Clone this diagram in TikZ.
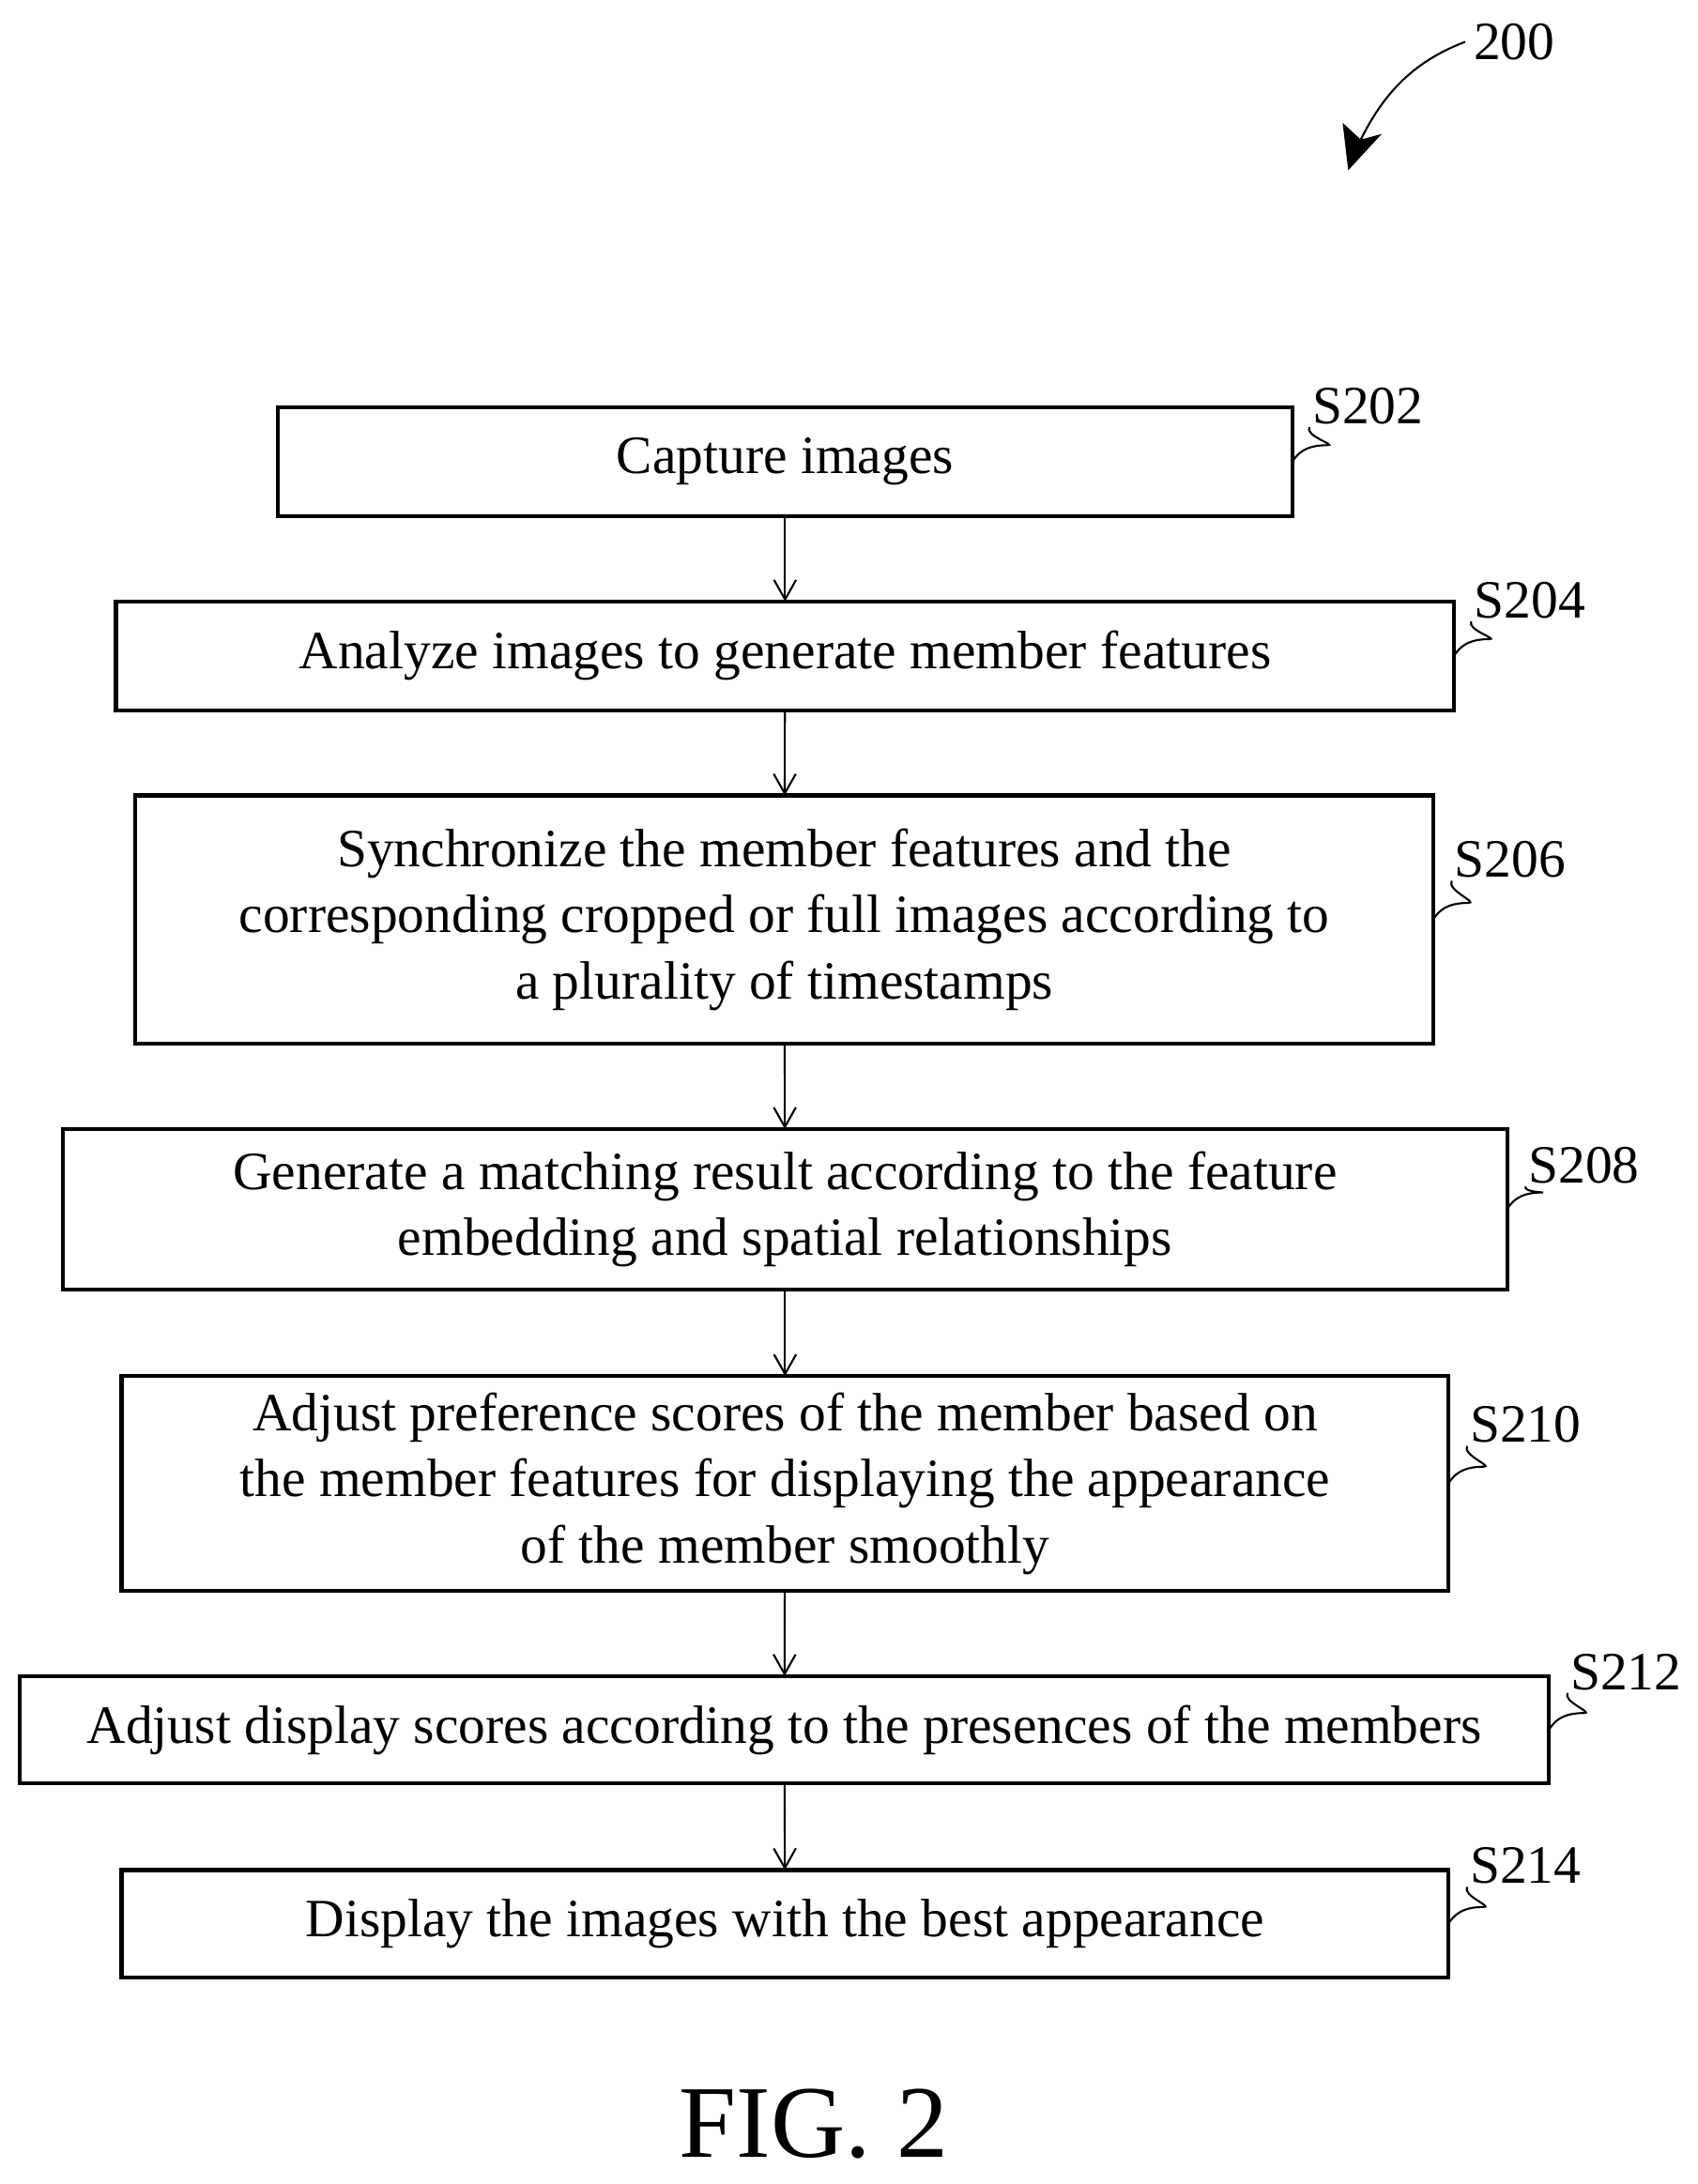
\documentclass[tikz,border=0pt]{standalone}
\usepackage{fontspec}
\setmainfont{Liberation Serif}
\usetikzlibrary{positioning,arrows.meta}

\begin{document}
\begin{tikzpicture}[x=0.02cm,y=-0.02cm]
  \tikzset{StepStyle/.style = {
    shape         = rectangle,
    draw          = black,
    line width    = 1.6pt,
    align         = center,
    inner sep     = 0pt,
    outer sep     = 0pt,
    font          = \fontsize{22}{27}\selectfont
    }
  }
  \tikzset{LabelStyle/.style = {
    inner sep     = 1pt,
    font          = \fontsize{22}{26}\selectfont
    }
  }
  \tikzset{FlowStyle/.style = {
    draw          = black,
    line width    = 0.8pt,
    -{Straight Barb[length=8pt,width=9pt]}
    }
  }
  \tikzset{TagStyle/.style = {
    draw          = black,
    line width    = 0.8pt
    }
  }
  \useasboundingbox (0,0) rectangle (1216,1565);

	\node[StepStyle, minimum width=14.54cm, minimum height=1.56cm](S202) at (562.5,331) {Capture images};
	\node[StepStyle, minimum width=19.18cm, minimum height=1.56cm](S204) at (562.5,470) {Analyze images to generate member features};
	\node[StepStyle, minimum width=18.6cm, minimum height=3.56cm](S206) at (562,659) {Synchronize the member features and the\\corresponding cropped or full images according to\\a plurality of timestamps};
	\node[StepStyle, minimum width=20.7cm, minimum height=2.3cm](S208) at (562.5,866.5) {Generate a matching result according to the feature\\embedding and spatial relationships};
	\node[StepStyle, minimum width=19.02cm, minimum height=3.08cm](S210) at (562.5,1063) {Adjust preference scores of the member based on\\the member features for displaying the appearance\\of the member smoothly};
	\node[StepStyle, minimum width=21.92cm, minimum height=1.54cm](S212) at (562,1239.5) {Adjust display scores according to the presences of the members};
	\node[StepStyle, minimum width=19.02cm, minimum height=1.54cm](S214) at (562.5,1378.5) {Display the images with the best appearance};
	%
	\node[LabelStyle](lS202) at (980,291) {S202};
	\node[LabelStyle](lS204) at (1096,430) {S204};
	\node[LabelStyle](lS206) at (1082,616) {S206};
	\node[LabelStyle](lS208) at (1135,835) {S208};
	\node[LabelStyle](lS210) at (1093,1021) {S210};
	\node[LabelStyle](lS212) at (1165,1198) {S212};
	\node[LabelStyle](lS214) at (1093,1337) {S214};
	%
	\foreach \s in {S202,S204,S206,S208,S210,S212,S214}
	  \draw[TagStyle] (\s.east) to[out=60,in=180] ++(25,-12) to[out=0,in=240] (l\s.south west);
	%
	\foreach \a/\b in {S202/S204,S204/S206,S206/S208,S208/S210,S210/S212,S212/S214}
	  \draw[FlowStyle] (\a) -- (\b);
	%
	\node[font=\fontsize{22}{26}\selectfont](fig) at (1085,30) {200};
	\coordinate (tip) at (966,122);
	\draw[line width=0.8pt] (fig.west) .. controls (1010,45) and (990,70) .. (975,100);
	\fill (tip) -- (962,88) -- (975,100) -- (990,96) -- cycle;
	%
	\node[font=\fontsize{42}{46}\selectfont](title) at (583,1522) {FIG. 2};
\end{tikzpicture}
\end{document}
